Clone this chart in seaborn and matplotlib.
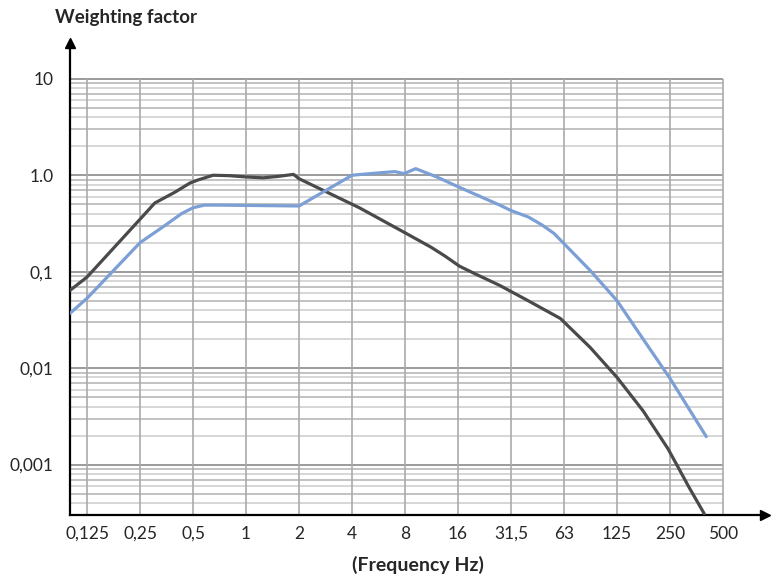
import numpy as np
import pandas as pd
import matplotlib
matplotlib.use("Agg")
import matplotlib.pyplot as plt
import seaborn as sns

# octave ticks on the x axis
freq_ticks = [0.125, 0.25, 0.5, 1, 2, 4, 8, 16, 32, 64, 128, 256, 512]
freq_labels = ["0,125", "0,25", "0,5", "1", "2", "4", "8", "16", "31,5", "63", "125", "250", "500"]
y_ticks = [10, 1, 0.1, 0.01, 0.001]
y_labels = ["10", "1.0", "0,1", "0,01", "0,001"]

# dark curve
dark_freq = [0.1, 0.125, 0.25, 0.303, 0.396, 0.48, 0.53, 0.65, 0.8, 1.0, 1.25, 1.5, 1.86,
             2.0, 4.4, 7.5, 11.2, 13.5, 16.3, 20, 27.6, 40, 61, 90, 128, 180, 249, 279, 330, 400]
dark_val = [0.064, 0.088, 0.35, 0.515, 0.67, 0.83, 0.89, 1.0, 0.99, 0.96, 0.94, 0.97, 1.02,
            0.92, 0.46, 0.27, 0.18, 0.145, 0.114, 0.095, 0.072, 0.05, 0.0327, 0.0164, 0.008,
            0.0036, 0.00146, 0.001, 0.00057, 0.00031]

# blue curve
blue_freq = [0.1, 0.125, 0.25, 0.345, 0.43, 0.5, 0.58, 0.7, 2.0, 4, 5.76, 7.0, 7.9, 9.2, 12.1,
             16, 27.6, 32, 40, 48, 56, 64, 90, 128, 180, 256, 411]
blue_val = [0.037, 0.053, 0.2, 0.30, 0.40, 0.46, 0.49, 0.49, 0.48, 1.0, 1.06, 1.09, 1.04, 1.17,
            0.96, 0.76, 0.49, 0.43, 0.37, 0.305, 0.25, 0.195, 0.103, 0.05, 0.020, 0.0078, 0.00195]

df = pd.concat([
    pd.DataFrame({"freq": dark_freq, "val": dark_val, "curve": "dark"}),
    pd.DataFrame({"freq": blue_freq, "val": blue_val, "curve": "blue"}),
])

sns.set_style("white")
plt.rcParams["font.family"] = ["Lato", "DejaVu Sans"]

fig = plt.figure(figsize=(7.71, 5.81), dpi=100)
ax = fig.add_axes([70 / 771, 1 - 515 / 581, 695 / 771, 472 / 581])
ax.set_xscale("log", base=2)
ax.set_yscale("log")
xmin, xmax = 0.1, 886
ymin, ymax = 0.0003, 23.5
ax.set_xlim(xmin, xmax)
ax.set_ylim(ymin, ymax)

# grid, stopping at 500 Hz and at 10
for d in range(-4, 2):
    for k in range(1, 10):
        v = k * 10.0 ** d
        if v < ymin or v > 10:
            continue
        if k == 1:
            ax.hlines(v, xmin, 512, color="#8a8a8a", lw=1.2, zorder=1)
        else:
            ax.hlines(v, xmin, 512, color="#b8b8b8" if k % 2 else "#cfcfcf", lw=1.2, zorder=1)
ax.vlines(freq_ticks, ymin, 10, color="#aaaaaa", lw=1.2, zorder=1)

sns.lineplot(data=df, x="freq", y="val", hue="curve", palette={"dark": "#4a4a4a", "blue": "#7c9fd5"},
             lw=2.3, sort=False, legend=False, ax=ax, zorder=3)

ax.set_xticks(freq_ticks)
ax.set_xticklabels(freq_labels, fontsize=12.5)
ax.set_yticks(y_ticks)
ax.set_yticklabels(y_labels, fontsize=12.5)
ax.minorticks_off()
ax.tick_params(axis="x", length=0, pad=8)
ax.tick_params(axis="y", length=0, pad=12)
ax.set_xlabel("(Frequency Hz)", fontsize=14, fontweight="bold", labelpad=10)
ax.set_ylabel("")

for s in ["top", "right"]:
    ax.spines[s].set_visible(False)
for s in ["left", "bottom"]:
    ax.spines[s].set_color("black")
    ax.spines[s].set_linewidth(1.6)
ax.plot(1, 0, ">k", ms=7, transform=ax.transAxes, clip_on=False)
ax.plot(0, 1, "^k", ms=7, transform=ax.transAxes, clip_on=False)

fig.text(55 / 771, 1 - 18 / 581, "Weighting factor", fontsize=13.5, fontweight="bold", va="center")

plt.savefig("out.png", dpi=100)
